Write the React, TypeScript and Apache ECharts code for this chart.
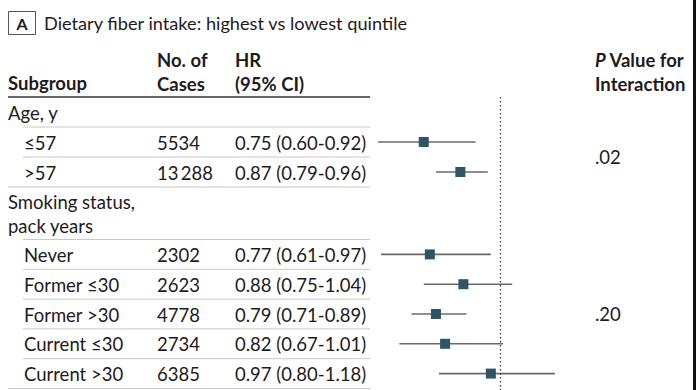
import React, { useEffect, useRef } from "react";
import * as echarts from "echarts";

// ---- data ----
const panelLetter = "A";
const title = "Dietary fiber intake: highest vs lowest quintile";
const headers = { subgroup: "Subgroup", cases: ["No. of", "Cases"], hr: ["HR", "(95% CI)"], p: ["Value for", "Interaction"] };
const groups = ["Age, y", "Smoking status,\npack years"];
const subgroups = ["≤57", ">57", "Never", "Former ≤30", "Former >30", "Current ≤30", "Current >30"];
const groupOf = [0, 0, 1, 1, 1, 1, 1];
const cases = ["5534", "13\u2009288", "2302", "2623", "4778", "2734", "6385"];
const hr = [0.75, 0.87, 0.77, 0.88, 0.79, 0.82, 0.97];
const lo = [0.6, 0.79, 0.61, 0.75, 0.71, 0.67, 0.8];
const hi = [0.92, 0.96, 0.97, 1.04, 0.89, 1.01, 1.18];
const pInteraction = [".02", ".20"];

// ---- layout ----
const W = 696;
const H = 390;
const FONT = "Lato";
const TEXT = "#1e1b1c";
const BODY_SIZE = 18.5;
const TABLE_TOP = 97;
const TABLE_RIGHT = 370;
const COL_GROUP = 8;
const COL_SUB = 24;
const COL_CASES = 157;
const COL_HR = 235;
const COL_P = 595;
const headerH = [30, 52.5];
const itemH = [30, 29.8];
const X_MIN = 0.5;
const X_MAX = 1.3;
const PX_PER_UNIT = 305;
const X_ONE = 500;

const fmt = (v: number) => v.toFixed(2);

export default function App() {
  const ref = useRef<HTMLDivElement>(null);

  useEffect(() => {
    if (!ref.current) return;
    const chart = echarts.init(ref.current, undefined, { renderer: "svg", width: W, height: H });

    const graphics: any[] = [];
    const txt = (text: string, x: number, y: number, opts: any = {}) => {
      graphics.push({
        type: "text",
        silent: true,
        style: {
          text,
          x,
          y,
          fill: TEXT,
          font: `${opts.weight || "normal"} ${opts.size || BODY_SIZE}px ${FONT}`,
          align: opts.align || "left",
          verticalAlign: "middle",
          lineHeight: opts.lineHeight || 24,
        },
      });
    };
    const hline = (x1: number, y: number, color: string, w: number) => {
      graphics.push({
        type: "line",
        silent: true,
        shape: { x1, y1: y, x2: TABLE_RIGHT, y2: y },
        style: { stroke: color, lineWidth: w },
      });
    };

    // title
    graphics.push({
      type: "rect",
      silent: true,
      shape: { x: 8.5, y: 11.5, width: 27, height: 23 },
      style: { fill: "#fff", stroke: "#555", lineWidth: 1 },
    });
    txt(panelLetter, 22, 23.5, { weight: "bold", size: 16, align: "center" });
    txt(title, 44, 22.5, { size: 18.2 });

    // headers
    txt(headers.subgroup, COL_GROUP, 83, { weight: "bold" });
    txt(headers.cases[0], COL_CASES, 60, { weight: "bold" });
    txt(headers.cases[1], COL_CASES, 84, { weight: "bold" });
    txt(headers.hr[0], COL_HR, 60, { weight: "bold" });
    txt(headers.hr[1], COL_HR, 84, { weight: "bold" });
    graphics.push({
      type: "text",
      silent: true,
      style: {
        text: "{i|P} " + headers.p[0],
        x: COL_P,
        y: 60,
        fill: TEXT,
        font: `bold ${BODY_SIZE}px ${FONT}`,
        align: "left",
        verticalAlign: "middle",
        rich: { i: { fontStyle: "italic", fontWeight: "bold", fontSize: BODY_SIZE, fontFamily: FONT, fill: TEXT } },
      },
    });
    txt(headers.p[1], COL_P, 84, { weight: "bold" });
    hline(COL_GROUP, TABLE_TOP, "#333", 1.5);

    // rows
    const yCenter: number[] = [];
    let cursor = TABLE_TOP;
    groups.forEach((g, gi) => {
      const hh = headerH[gi];
      txt(g, COL_GROUP, cursor + hh / 2 + 0.5);
      cursor += hh;
      hline(COL_SUB - 1, cursor, "#c8c8c8", 1);
      const idx = subgroups.map((_, i) => i).filter((i) => groupOf[i] === gi);
      idx.forEach((i, k) => {
        const h = itemH[gi];
        const c = cursor + h / 2;
        yCenter[i] = c;
        txt(subgroups[i], COL_SUB, c + 0.5);
        txt(cases[i], COL_CASES, c + 0.5);
        txt(`${fmt(hr[i])} (${fmt(lo[i])}-${fmt(hi[i])})`, COL_HR, c + 0.5);
        cursor += h;
        hline(k === idx.length - 1 ? COL_GROUP : COL_SUB - 1, cursor, "#c8c8c8", 1);
      });
      const pc = (yCenter[idx[0]] + yCenter[idx[idx.length - 1]]) / 2;
      txt(pInteraction[gi], COL_P, pc);
    });

    // right edge band
    graphics.push({
      type: "rect",
      silent: true,
      shape: { x: 693, y: 0, width: 3, height: H },
      style: { fill: "#111" },
    });

    const gridLeft = X_ONE - (1 - X_MIN) * PX_PER_UNIT;
    const gridWidth = (X_MAX - X_MIN) * PX_PER_UNIT;
    const gridHeight = H - TABLE_TOP;

    const data = subgroups.map((_, i) => [lo[i], hi[i], hr[i], yCenter[i] - TABLE_TOP]);

    chart.setOption({
      animation: false,
      backgroundColor: "#fff",
      grid: { left: gridLeft, top: TABLE_TOP, width: gridWidth, height: gridHeight },
      xAxis: { type: "value", min: X_MIN, max: X_MAX, show: false },
      yAxis: { type: "value", min: 0, max: gridHeight, inverse: true, show: false },
      graphic: graphics,
      series: [
        {
          type: "custom",
          data,
          encode: { x: [0, 1, 2], y: 3 },
          clip: false,
          renderItem: (params: any, api: any) => {
            const y = api.value(3);
            const p1 = api.coord([api.value(0), y]);
            const p2 = api.coord([api.value(1), y]);
            const pc = api.coord([api.value(2), y]);
            const s = 10;
            return {
              type: "group",
              children: [
                {
                  type: "line",
                  shape: { x1: p1[0], y1: p1[1], x2: p2[0], y2: p2[1] },
                  style: { stroke: "#6a6a6a", lineWidth: 1.6 },
                },
                {
                  type: "rect",
                  shape: { x: pc[0] - s / 2, y: pc[1] - s / 2, width: s, height: s },
                  style: { fill: "#2e5566" },
                },
              ],
            };
          },
          markLine: {
            silent: true,
            symbol: "none",
            label: { show: false },
            lineStyle: { type: [1.5, 2.5], color: "#333", width: 1.3 },
            data: [{ xAxis: 1 }],
          },
        },
      ],
    });

    return () => chart.dispose();
  }, []);

  return (
    <div
      ref={ref}
      style={{ position: "fixed", left: 0, top: 0, width: W, height: H, background: "#fff" }}
    />
  );
}
